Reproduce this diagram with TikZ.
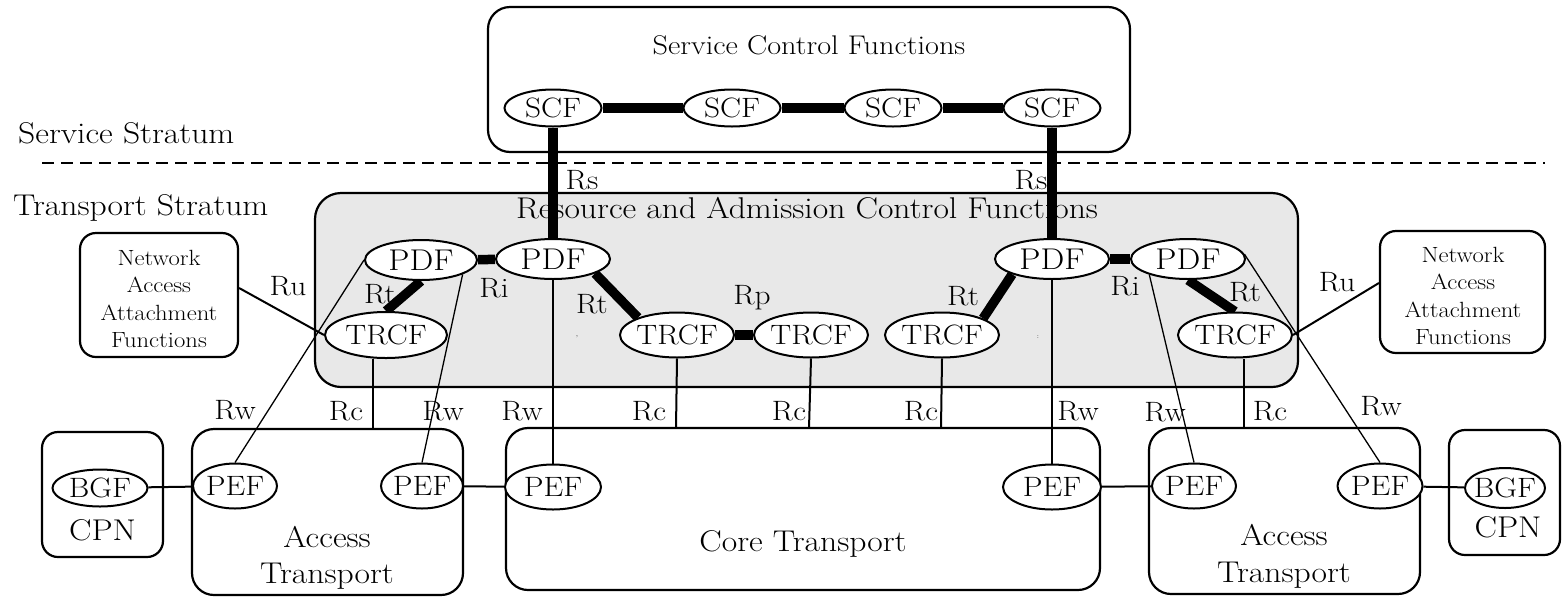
\documentclass[tikz,border=0pt]{standalone}
\usepackage{graphicx}
\usetikzlibrary{shapes.geometric}
\definecolor{racfgray}{gray}{0.91}
\pgfdeclarelayer{panels}
\pgfdeclarelayer{wires}
\pgfsetlayers{panels,wires,main}
\newcommand\fsz[1]{\fontsize{#1}{#1}\selectfont}
% slightly widened lettering
\newcommand\wide[1]{\scalebox{1.12}[1]{#1}}
% zero-width label so the ellipse size is set by its own dimensions
\newcommand\zw[1]{\makebox[0pt]{\wide{#1}}}

\begin{document}
\begin{tikzpicture}[x=1pt,y=-1pt,
  panel/.style={draw, line width=2.2pt, rounded corners=22pt, inner sep=0pt},
  smallpanel/.style={panel, rounded corners=16pt},
  fn/.style={ellipse, draw, line width=2pt, fill=white, inner sep=0pt, font=\fsz{28}},
  scfn/.style={fn, minimum width=97pt, minimum height=37pt},
  pdfn/.style={fn, minimum width=114pt, minimum height=40pt, font=\fsz{30}},
  trcfn/.style={fn, minimum width=114pt, minimum height=45pt},
  pefn/.style={fn, minimum width=84pt, minimum height=45pt},
  bgfn/.style={fn, minimum height=38pt},
  lab/.style={inner sep=0pt, anchor=base, font=\fsz{28}},
  caption/.style={inner sep=0pt, anchor=base, font=\fsz{30}},
  naaf/.style={inner sep=0pt, font=\fontsize{22}{27.5}\selectfont},
  bus/.style={line width=9.5pt},
  wire/.style={line width=2pt},
  fine/.style={line width=1.3pt},
]
\useasboundingbox (0,0) rectangle (1562,598);

% ---------- panels ----------
\begin{pgfonlayer}{panels}
  \node[panel, minimum width=642pt, minimum height=145pt] (scfbox) at (809,79.5) {};
  \node[panel, fill=racfgray, rounded corners=26pt, minimum width=983pt, minimum height=194pt] (racf) at (806.5,290) {};
  \node[smallpanel, minimum width=158pt, minimum height=124pt] (naafL) at (159,295) {};
  \node[smallpanel, minimum width=165pt, minimum height=122pt] (naafR) at (1462.5,292) {};
  \node[smallpanel, minimum width=121pt, minimum height=125pt] (cpnL) at (102.5,494.5) {};
  \node[panel, minimum width=271pt, minimum height=166pt] (accL) at (327.5,512) {};
  \node[panel, minimum width=594pt, minimum height=162pt] (core) at (803,509) {};
  \node[panel, minimum width=271pt, minimum height=166pt] (accR) at (1284.5,511) {};
  \node[smallpanel, minimum width=111pt, minimum height=125pt] (cpnR) at (1504.5,492.5) {};
\end{pgfonlayer}

% ---------- panel captions ----------
\node[caption, font=\fsz{27}] (scftitle) at (809,54) {\wide{Service Control Functions}};
\node[caption] (racftitle) at (807,218) {\wide{Resource and Admission Control Functions}};
\node[caption, anchor=base west] (svcstr) at (18,143) {\wide{Service Stratum}};
\node[caption, anchor=base west] (trstr) at (13,215) {\wide{Transport Stratum}};
\node[naaf] (naafLtxt) at (159,301)
  {\wide{\begin{tabular}{@{}c@{}}Network\\Access\\Attachment\\Functions\end{tabular}}};
\node[naaf] (naafRtxt) at (1463,298)
  {\wide{\begin{tabular}{@{}c@{}}Network\\Access\\Attachment\\Functions\end{tabular}}};
\node[caption] (accLa) at (327,547) {\wide{Access}};
\node[caption] (accLb) at (327,583) {\wide{Transport}};
\node[caption] (accRa) at (1284,545) {\wide{Access}};
\node[caption] (accRb) at (1284,582) {\wide{Transport}};
\node[caption] (coretxt) at (803,551) {\wide{Core Transport}};
\node[caption] (cpnLtxt) at (102.5,540) {\wide{CPN}};
\node[caption] (cpnRtxt) at (1508,537) {\wide{CPN}};

% ---------- functional entities ----------
\node[scfn] (scf1) at (553,108) {\zw{SCF}};
\node[scfn] (scf2) at (732,108) {\zw{SCF}};
\node[scfn] (scf3) at (893,108) {\zw{SCF}};
\node[scfn] (scf4) at (1052,108) {\zw{SCF}};

\node[pdfn, minimum width=112pt] (pdf1) at (421,260) {\zw{PDF}};
\node[pdfn] (pdf2) at (553,259) {\zw{PDF}};
\node[pdfn] (pdf3) at (1052,259) {\zw{PDF}};
\node[pdfn] (pdf4) at (1188,259) {\zw{PDF}};

\node[trcfn, minimum width=122pt, minimum height=46pt] (trcf1) at (386,335) {\zw{TRCF}};
\node[trcfn] (trcf2) at (677,335) {\zw{TRCF}};
\node[trcfn] (trcf3) at (811,335) {\zw{TRCF}};
\node[trcfn] (trcf4) at (942,335) {\zw{TRCF}};
\node[trcfn] (trcf5) at (1235,335) {\zw{TRCF}};

\node[pefn] (pef1) at (235,486) {\zw{PEF}};
\node[pefn, minimum width=82pt] (pef2) at (422,486) {\zw{PEF}};
\node[pefn, minimum width=96pt] (pef3) at (553,487) {\zw{PEF}};
\node[pefn, minimum width=98pt] (pef4) at (1052,487) {\zw{PEF}};
\node[pefn] (pef5) at (1194,486) {\zw{PEF}};
\node[pefn, minimum width=85pt] (pef6) at (1380,486) {\zw{PEF}};

\node[bgfn, minimum width=95pt, minimum height=37pt] (bgf1) at (100,488) {\zw{BGF}};
\node[bgfn, minimum width=80pt, minimum height=40pt] (bgf2) at (1505,488) {\zw{BGF}};

% ---------- reference point labels ----------
\node[lab] (rs1) at (582,189) {\wide{Rs}};
\node[lab] (rs2) at (1031,189) {\wide{Rs}};
\node[lab] (ri1) at (494,297) {\wide{Ri}};
\node[lab] (ri2) at (1125,295) {\wide{Ri}};
\node[lab] (rt1) at (380,303) {\wide{Rt}};
\node[lab] (rt2) at (592,313) {\wide{Rt}};
\node[lab] (rt3) at (963,305) {\wide{Rt}};
\node[lab] (rt4) at (1245,301) {\wide{Rt}};
\node[lab] (rp) at (752,304) {\wide{Rp}};
\node[lab] (ru1) at (288,295) {\wide{Ru}};
\node[lab] (ru2) at (1337,291) {\wide{Ru}};
\node[lab] (rw1) at (235,419) {\wide{Rw}};
\node[lab] (rw2) at (443,420) {\wide{Rw}};
\node[lab] (rw3) at (522,420) {\wide{Rw}};
\node[lab] (rw4) at (1078,420) {\wide{Rw}};
\node[lab] (rw5) at (1165,421) {\wide{Rw}};
\node[lab] (rw6) at (1381,415) {\wide{Rw}};
\node[lab] (rc1) at (346,420) {\wide{Rc}};
\node[lab] (rc2) at (649,420) {\wide{Rc}};
\node[lab] (rc3) at (789,420) {\wide{Rc}};
\node[lab] (rc4) at (921,420) {\wide{Rc}};
\node[lab] (rc5) at (1270,420) {\wide{Rc}};
\node[inner sep=0pt, font=\fsz{7}] (tick1) at (577,338) {'};
\node[inner sep=0pt, font=\fsz{7}] (tick2) at (1038,337) {:};

% ---------- free line ends ----------
\coordinate (dashL) at (42,163);
\coordinate (dashR) at (1545,163);
\coordinate (c1) at (373,429);
\coordinate (c2) at (676,428);
\coordinate (c3) at (809,428);
\coordinate (c4) at (941,428);
\coordinate (c5) at (1244,428);

% ---------- connectors ----------
\begin{pgfonlayer}{wires}
  \draw[line width=1.5pt, dash pattern=on 12pt off 7pt] (dashL) -- (dashR);
  % thick interfaces
  \draw[bus] (scf1) -- (scf2);
  \draw[bus] (scf2) -- (scf3);
  \draw[bus] (scf3) -- (scf4);
  \draw[bus] (scf1) -- (pdf2);
  \draw[bus] (scf4) -- (pdf3);
  \draw[bus] (pdf1) -- (pdf2);
  \draw[bus] (pdf3) -- (pdf4);
  \draw[bus] (pdf1.south) -- (trcf1.north);
  \draw[bus] (pdf2.-19) -- (trcf2.156);
  \draw[bus] (pdf3.-159) -- (trcf4.22);
  \draw[bus] (pdf4.south) -- (trcf5.north);
  \draw[bus] (trcf2) -- (trcf3);
  % Ru
  \draw[wire] ([yshift=7pt]naafL.east) -- (trcf1.west);
  \draw[wire] (trcf5.east) -- ([yshift=9pt]naafR.west);
  % Rc
  \draw[wire] (trcf1.south -| c1) -- (c1);
  \draw[wire] (trcf2.south) -- (c2);
  \draw[wire] (trcf3.south) -- (c3);
  \draw[wire] (trcf4.south) -- (c4);
  \draw[wire] (trcf5.south -| c5) -- (c5);
  % Rw
  \draw[fine] (pdf1.west) -- (pef1.north);
  \draw[fine] (pdf1.-19) -- (pef2.north);
  \draw[wire] (pdf2) -- (pef3);
  \draw[wire] (pdf3) -- (pef4);
  \draw[fine] (pdf4.-158) -- (pef5.north);
  \draw[fine] (pdf4.5) -- (pef6.north);
  % transport links
  \draw[wire] (bgf1) -- (pef1);
  \draw[wire] (pef2) -- (pef3);
  \draw[wire] (pef4) -- (pef5);
  \draw[wire] (pef6) -- (bgf2);
\end{pgfonlayer}
\end{tikzpicture}
\end{document}
